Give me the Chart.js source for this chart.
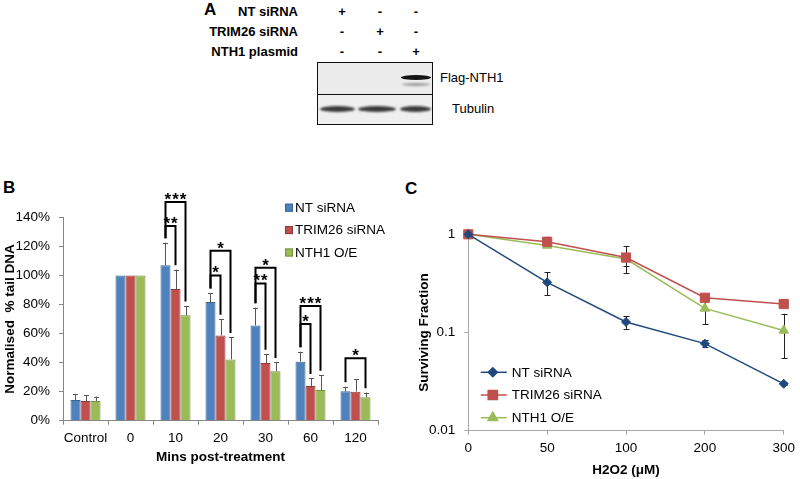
<!DOCTYPE html>
<html>
<head>
<meta charset="utf-8">
<script src="https://cdn.jsdelivr.net/npm/chart.js@4.4.1/dist/chart.umd.min.js"></script>
<style>
  body { margin: 0; background: #fff; width: 800px; height: 479px; position: relative; overflow: hidden;
         font-family: "Liberation Sans", Arial, sans-serif; color: #000; }
  .abs { position: absolute; white-space: nowrap; }
  .lbl { font-weight: bold; font-size: 13px; line-height: 15px; text-align: right; }
  .sign { font-weight: bold; font-size: 13px; line-height: 15px; width: 20px; text-align: center; }
  .panel { font-weight: bold; font-size: 17px; line-height: 20px; }
  .blot { border: 1px solid #111; box-sizing: border-box; }
  .band { position: absolute; border-radius: 50%; }
</style>
</head>
<body>

<!-- panel A: western blot (drawn as plain html) -->
<div class="abs panel" style="left:204px; top:0px;">A</div>
<div id="blotLabels"></div>
<div class="abs blot" style="left:317px; top:62px; width:116px; height:33px; background:#ececec;"></div>
<div class="abs blot" style="left:317px; top:94px; width:116px; height:31px; background:#efefef;"></div>
<div class="abs" style="left:318px; top:63px; width:114px; height:61px;">
  <div class="band" style="left:83px; top:12px; width:30px; height:5px; background:#151515; filter:blur(0.7px);"></div>
  <div class="band" style="left:84px; top:20px; width:28px; height:3px; background:#9a9a9a; filter:blur(0.8px);"></div>
  <div class="band" style="left:2px; top:43px; width:35px; height:6px; background:#3a3a3a; filter:blur(0.8px);"></div>
  <div class="band" style="left:40px; top:43px; width:38px; height:6px; background:#3a3a3a; filter:blur(0.8px);"></div>
  <div class="band" style="left:82px; top:43px; width:31px; height:6px; background:#3a3a3a; filter:blur(0.8px);"></div>
</div>
<div class="abs" style="left:440px; top:70px; font-size:13px;">Flag-NTH1</div>
<div class="abs" style="left:452px; top:101px; font-size:13px;">Tubulin</div>

<div class="abs panel" style="left:3px; top:178px;">B</div>
<div class="abs panel" style="left:405px; top:179px;">C</div>

<canvas id="chartB" class="abs" style="left:0px; top:185px;" width="400" height="294"></canvas>
<canvas id="chartC" class="abs" style="left:400px; top:185px;" width="400" height="294"></canvas>

<script>
// ---------- panel A ----------
const blotRows = ['NT siRNA', 'TRIM26 siRNA', 'NTH1 plasmid'];
const blotSigns = [['+', '-', '-'], ['-', '+', '-'], ['-', '-', '+']];

// ---------- panel B: comet assay ----------
const tailCats = ['Control', '0', '10', '20', '30', '60', '120'];
const seriesNames = ['NT siRNA', 'TRIM26 siRNA', 'NTH1 O/E'];
const ntTail = [14.2, 100, 107, 81.7, 65.6, 40.6, 20.2];
const ntTailErr = [3.9, 0, 15.5, 6.3, 12.2, 6.9, 3.2];
const trimTail = [13.6, 100, 90.6, 58.7, 39.7, 23.9, 20];
const trimTailErr = [4, 0, 13.4, 11.3, 6.2, 5.3, 8.7];
const nthTail = [13.6, 100, 72.5, 42.2, 34, 21.1, 16.1];
const nthTailErr = [2.9, 0, 6.5, 15.2, 6.2, 10.3, 3.2];
// [category index, from series, to series, bracket height (%), label]
const sigBrackets = [
  [2, 0, 1, 134, '**'], [2, 0, 2, 150.5, '***'],
  [3, 0, 1, 100, '*'], [3, 0, 2, 117, '*'],
  [4, 0, 1, 94.5, '**'], [4, 0, 2, 105.3, '*'],
  [5, 0, 1, 66.5, '*'], [5, 0, 2, 79, '***'],
  [6, 0, 2, 43, '*']
];

// ---------- panel C: survival ----------
const doseCats = ['0', '50', '100', '200', '300'];
const ntSurv = [1, 0.324, 0.128, 0.077, 0.030];
const ntSurvErr = [0, 0.085, 0.019, 0.006, 0.001];
const trimSurv = [1, 0.84, 0.58, 0.226, 0.195];
const trimSurvErr = [0, 0.1, 0.18, 0, 0];
const nthSurv = [1, 0.77, 0.56, 0.176, 0.105];
const nthSurvErr = [0, 0.02, 0.09, 0.055, 0.05];
const survTicks = [0.01, 0.1, 1];

const colors = ['#4F81BD', '#C0504D', '#9BBB59'];
const borders = ['#3A6496', '#8E3A38', '#74913F'];
const font = 'Liberation Sans';

// build the blot labels
const labelBox = document.getElementById('blotLabels');
const signX = [342, 380, 416];
blotRows.forEach((name, r) => {
  const top = 3.5 + r * 20;
  const d = document.createElement('div');
  d.className = 'abs lbl';
  d.style.right = (800 - 298) + 'px';
  d.style.top = top + 'px';
  d.textContent = name;
  labelBox.appendChild(d);
  blotSigns[r].forEach((s, c) => {
    const e = document.createElement('div');
    e.className = 'abs sign';
    e.style.left = (signX[c] - 10) + 'px';
    e.style.top = top + 'px';
    e.textContent = s;
    labelBox.appendChild(e);
  });
});

// error bars; upward only for bars, both ways for the line chart
const errorBarPlugin = {
  id: 'errorBars',
  drawBars(chart, opts) {
    const ctx = chart.ctx, y = chart.scales.y;
    ctx.save();
    ctx.strokeStyle = opts.color;
    ctx.lineWidth = 1;
    chart.data.datasets.forEach((ds, i) => {
      if (!ds.errorBars) return;
      chart.getDatasetMeta(i).data.forEach((el, j) => {
        const v = ds.data[j], e = ds.errorBars[j];
        if (!e) return;
        const x = Math.round(el.x) + 0.5;
        const top = y.getPixelForValue(v + e);
        const bot = opts.both ? y.getPixelForValue(v - e) : y.getPixelForValue(v);
        ctx.beginPath();
        ctx.moveTo(x, top); ctx.lineTo(x, bot);
        ctx.moveTo(x - opts.cap, Math.round(top) + 0.5); ctx.lineTo(x + opts.cap, Math.round(top) + 0.5);
        if (opts.both) { ctx.moveTo(x - opts.cap, Math.round(bot) + 0.5); ctx.lineTo(x + opts.cap, Math.round(bot) + 0.5); }
        ctx.stroke();
      });
    });
    ctx.restore();
  },
  beforeDatasetsDraw(chart, args, opts) { if (opts.under) this.drawBars(chart, opts); },
  afterDatasetsDraw(chart, args, opts) { if (!opts.under) this.drawBars(chart, opts); }
};

// significance brackets for panel B
const bracketPlugin = {
  id: 'brackets',
  afterDatasetsDraw(chart) {
    const ctx = chart.ctx, y = chart.scales.y;
    ctx.save();
    ctx.strokeStyle = '#000';
    ctx.fillStyle = '#000';
    ctx.lineWidth = 2;
    ctx.font = 'bold 17px "' + font + '"';
    ctx.letterSpacing = '1px';
    ctx.textAlign = 'center';
    ctx.textBaseline = 'alphabetic';
    sigBrackets.forEach(([cat, a, b, level, label]) => {
      const dsA = chart.data.datasets[a], dsB = chart.data.datasets[b];
      const xa = chart.getDatasetMeta(a).data[cat].x;
      const xb = chart.getDatasetMeta(b).data[cat].x;
      const ly = y.getPixelForValue(level);
      const ya = y.getPixelForValue(Math.min(level, dsA.data[cat] + dsA.errorBars[cat] + 3));
      const yb = y.getPixelForValue(Math.min(level, dsB.data[cat] + dsB.errorBars[cat] + 3));
      ctx.beginPath();
      ctx.moveTo(xa, ya); ctx.lineTo(xa, ly); ctx.lineTo(xb, ly); ctx.lineTo(xb, yb);
      ctx.stroke();
      ctx.fillText(label, (xa + xb) / 2 + 0.5, ly + 3);
    });
    ctx.restore();
  }
};

// square legend of panel B
const legendB = {
  id: 'legendB',
  afterDraw(chart) {
    const ctx = chart.ctx, area = chart.chartArea;
    ctx.save();
    ctx.font = '13.5px "' + font + '"';
    ctx.textBaseline = 'middle';
    chart.data.datasets.forEach((ds, i) => {
      const x = area.left + 222, y = area.top - 9.6 + i * 22.4;
      ctx.fillStyle = ds.backgroundColor;
      ctx.fillRect(x, y - 4, 8, 8);
      ctx.strokeStyle = ds.borderColor;
      ctx.lineWidth = 1;
      ctx.strokeRect(x + 0.5, y - 3.5, 7, 7);
      ctx.fillStyle = '#000';
      ctx.fillText(ds.label, x + 10, y + 0.5);
    });
    ctx.restore();
  }
};

// line legend of panel C
const legendC = {
  id: 'legendC',
  afterDraw(chart) {
    const ctx = chart.ctx, area = chart.chartArea;
    ctx.save();
    ctx.font = '13.5px "' + font + '"';
    ctx.textBaseline = 'middle';
    chart.data.datasets.forEach((ds, i) => {
      const x = area.left + 12.5, y = area.top + 138 + i * 22.7;
      ctx.strokeStyle = ds.borderColor;
      ctx.lineWidth = 1.5;
      ctx.beginPath(); ctx.moveTo(x, y); ctx.lineTo(x + 26, y); ctx.stroke();
      ctx.fillStyle = ds.backgroundColor;
      Chart.helpers.drawPoint(ctx, {pointStyle: ds.pointStyle, radius: ds.pointRadius, borderWidth: 1, rotation: 0}, x + 12, y);
      ctx.fill();
      ctx.fillStyle = '#000';
      ctx.fillText(ds.label, x + 31, y + 0.5);
    });
    ctx.restore();
  }
};

const tickFont = {family: font, size: 13.5};
const titleFont = {family: font, size: 13.5, weight: 'bold'};

new Chart(document.getElementById('chartB'), {
  type: 'bar',
  data: {
    labels: tailCats,
    datasets: [ntTail, trimTail, nthTail].map((vals, i) => ({
      label: seriesNames[i],
      data: vals,
      errorBars: [ntTailErr, trimTailErr, nthTailErr][i],
      backgroundColor: colors[i],
      borderColor: borders[i],
      borderWidth: 1,
      categoryPercentage: 0.667,
      barPercentage: 1
    }))
  },
  options: {
    responsive: false,
    animation: false,
    devicePixelRatio: 1,
    layout: {padding: {left: 0, right: 22, top: 32.3, bottom: 0}},
    plugins: {
      legend: {display: false},
      tooltip: {enabled: false},
      errorBars: {color: '#555', cap: 2.5, both: false, under: false}
    },
    scales: {
      x: {
        grid: {drawOnChartArea: false, tickLength: 4, color: '#868686', offset: true},
        border: {color: '#868686'},
        ticks: {color: '#000', font: tickFont, padding: 5, autoSkip: false, maxRotation: 0},
        title: {display: true, text: 'Mins post-treatment', color: '#000', font: titleFont, padding: {top: 0, bottom: 14}},
        afterFit: s => { s.height = 58.3; }
      },
      y: {
        min: 0, max: 140,
        grid: {drawOnChartArea: false, tickLength: 4, color: '#868686'},
        border: {color: '#868686'},
        ticks: {stepSize: 20, color: '#000', font: tickFont, padding: 9, callback: v => v + '%'},
        title: {display: true, text: 'Normalised  % tail DNA', color: '#000', font: titleFont, padding: {top: 2, bottom: 0}},
        afterFit: s => { s.width = 63; }
      }
    }
  },
  plugins: [errorBarPlugin, bracketPlugin, legendB]
});

const lineStyles = [
  {color: '#1F497D', point: 'rectRot', r: 4.5},
  {color: '#C0504D', point: 'rect', r: 6.5},
  {color: '#9BBB59', point: 'triangle', r: 5.5}
];

new Chart(document.getElementById('chartC'), {
  type: 'line',
  data: {
    labels: doseCats,
    datasets: [ntSurv, trimSurv, nthSurv].map((vals, i) => ({
      label: seriesNames[i],
      data: vals,
      errorBars: [ntSurvErr, trimSurvErr, nthSurvErr][i],
      borderColor: lineStyles[i].color,
      backgroundColor: lineStyles[i].color,
      borderWidth: 1.5,
      pointStyle: lineStyles[i].point,
      pointRadius: lineStyles[i].r,
      pointBorderWidth: 1,
      clip: false,
      tension: 0
    }))
  },
  options: {
    responsive: false,
    animation: false,
    devicePixelRatio: 1,
    layout: {padding: {left: 0, right: 10, top: 49.3, bottom: 0}},
    plugins: {
      legend: {display: false},
      tooltip: {enabled: false},
      errorBars: {color: '#222', cap: 3, both: true, under: true}
    },
    scales: {
      x: {
        offset: false,
        grid: {drawOnChartArea: false, tickLength: 4, color: '#a6a6a6', offset: false},
        border: {color: '#a6a6a6'},
        ticks: {color: '#000', font: tickFont, padding: 5, autoSkip: false, maxRotation: 0},
        title: {display: true, text: 'H2O2 (μM)', color: '#000', font: titleFont, padding: {top: 0, bottom: 1}},
        afterFit: s => { s.height = 48.3; }
      },
      y: {
        type: 'logarithmic',
        min: 0.01, max: 1,
        grid: {drawOnChartArea: false, tickLength: 4, color: '#a6a6a6'},
        border: {color: '#a6a6a6'},
        afterBuildTicks: s => { s.ticks = survTicks.map(v => ({value: v})); },
        ticks: {color: '#000', font: tickFont, padding: 9, callback: v => String(v)},
        title: {display: true, text: 'Surviving Fraction', color: '#000', font: titleFont, padding: {top: 16, bottom: 0}},
        afterFit: s => { s.width = 68.3; }
      }
    }
  },
  plugins: [errorBarPlugin, legendC]
});
</script>
</body>
</html>
